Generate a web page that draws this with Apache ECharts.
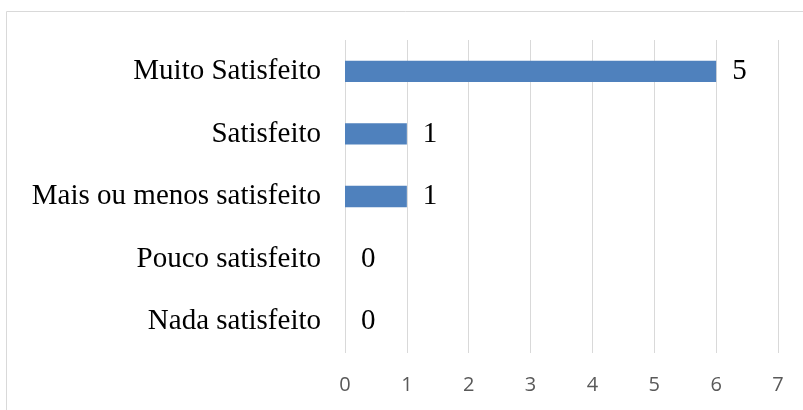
<!DOCTYPE html>
<html><head><meta charset="utf-8">
<script src="https://cdn.jsdelivr.net/npm/echarts@6/dist/echarts.min.js"></script>
<style>html,body{margin:0;padding:0;background:#fff}#c{width:803px;height:410px}</style>
</head><body><div id="c"></div>
<script>
const categories = ['Nada satisfeito','Pouco satisfeito','Mais ou menos satisfeito','Satisfeito','Muito Satisfeito'];
const values = [0, 0, 1, 1, 6];
const labelTexts = ['0', '0', '1', '1', '5'];
const xTicks = [0, 1, 2, 3, 4, 5, 6, 7];

const chart = echarts.init(document.getElementById('c'), null, {renderer: 'canvas'});
chart.setOption({
  animation: false,
  graphic: [{
    type: 'rect', shape: {x: 6.5, y: 11.5, width: 820, height: 420},
    style: {fill: 'none', stroke: '#d9d9d9', lineWidth: 1}, silent: true
  }],
  grid: {left: 345, right: 25, top: 40, bottom: 57},
  xAxis: {
    type: 'value', min: xTicks[0], max: xTicks[xTicks.length - 1], interval: 1,
    axisLine: {show: false}, axisTick: {show: false},
    splitLine: {show: true, lineStyle: {color: '#d9d9d9', width: 1}},
    axisLabel: {margin: 22, color: '#595959', fontSize: 20, fontFamily: 'Open Sans'}
  },
  yAxis: {
    type: 'category', data: categories,
    axisLine: {show: false}, axisTick: {show: false},
    axisLabel: {margin: 24, color: '#000', fontSize: 29, fontFamily: 'Liberation Serif', padding: [4, 0, 0, 0]}
  },
  series: [{
    type: 'bar', data: values, barWidth: '34%',
    itemStyle: {color: '#4f81bd'},
    label: {
      show: true, position: 'right', distance: 16, padding: [4, 0, 0, 0],
      color: '#000', fontSize: 29, fontFamily: 'Liberation Serif',
      formatter: p => labelTexts[p.dataIndex]
    }
  }]
});
</script></body></html>
